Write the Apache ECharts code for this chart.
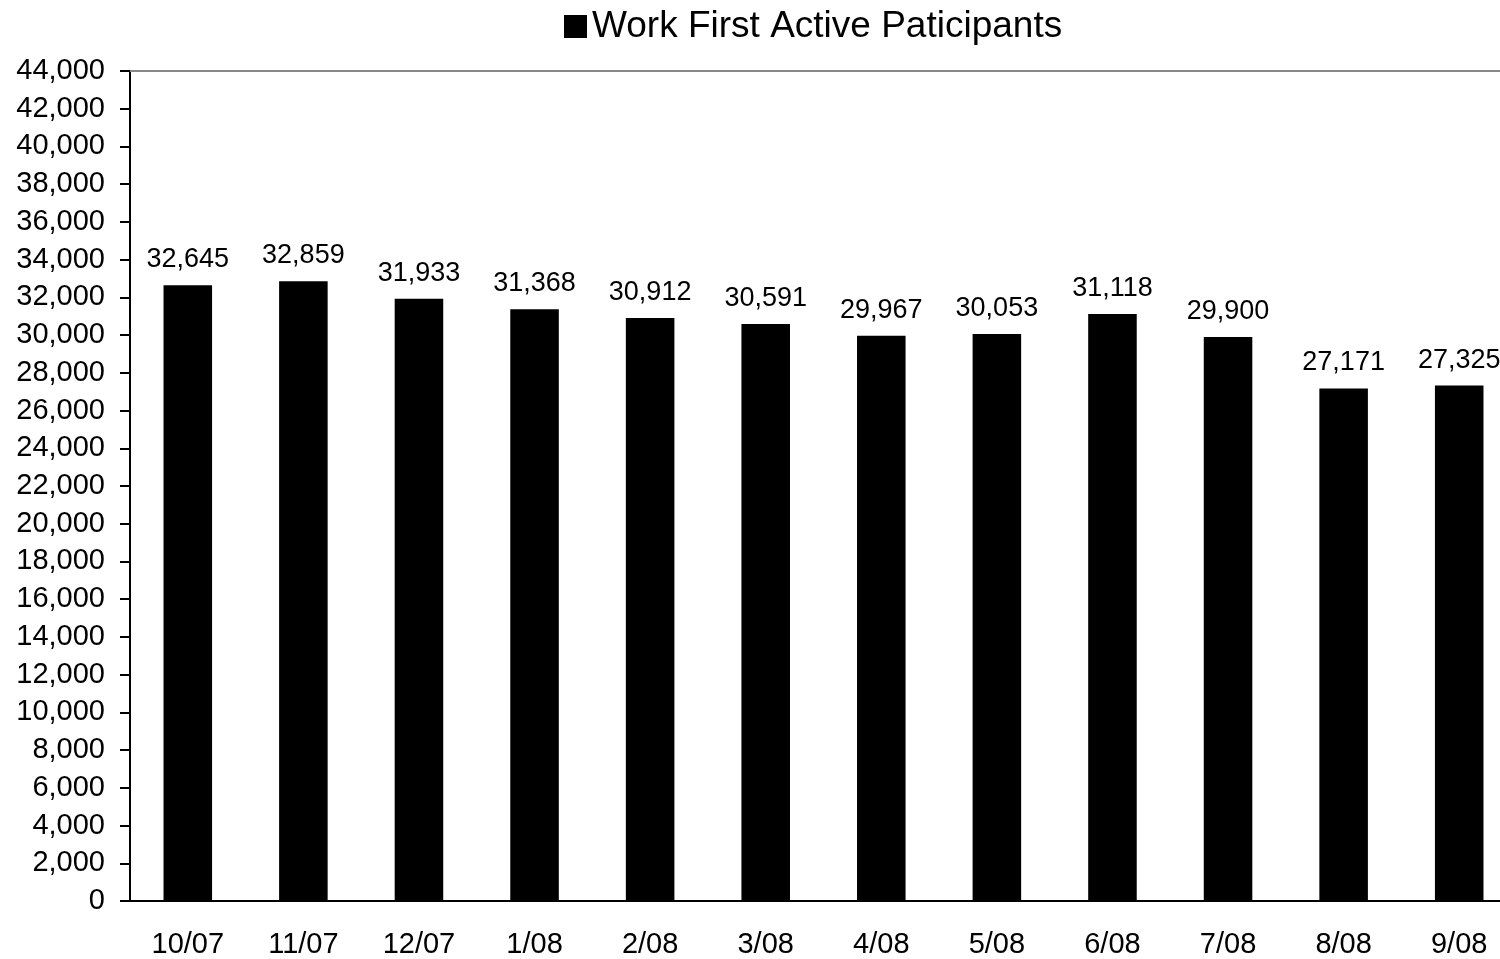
<!DOCTYPE html>
<html><head><meta charset="utf-8">
<script src="https://cdn.jsdelivr.net/npm/echarts@6/dist/echarts.min.js"></script>
<style>html,body{margin:0;padding:0;background:#fff;overflow:hidden}#c{width:1517px;height:959px}</style>
</head><body><div id="c"></div>
<script>
const categories = ['10/07','11/07','12/07','1/08','2/08','3/08','4/08','5/08','6/08','7/08','8/08','9/08'];
const participants = [32645, 32859, 31933, 31368, 30912, 30591, 29967, 30053, 31118, 29900, 27171, 27325];
const seriesName = 'Work First Active Paticipants';
const yMin = 0, yMax = 44000, yStep = 2000;

const FONT = '"Liberation Sans", Arial, sans-serif';
const chart = echarts.init(document.getElementById('c'));
chart.setOption({
  animation: false,
  textStyle: { fontFamily: FONT },
  legend: {
    data: [seriesName], top: 3, left: 559, itemWidth: 23, itemHeight: 23, itemGap: 6,
    icon: 'rect',
    textStyle: { fontSize: 37, color: '#000', fontFamily: FONT }
  },
  grid: { left: 130, top: 71, bottom: 58, width: 1387, containLabel: false },
  xAxis: [{
    type: 'category', data: categories, position: 'bottom',
    axisLine: { lineStyle: { color: '#000', width: 2 } },
    axisTick: { show: false },
    axisLabel: { fontSize: 29, color: '#000', margin: 29, fontFamily: FONT }
  }, {
    type: 'category', data: categories, position: 'top',
    axisLine: { show: true, lineStyle: { color: '#888', width: 2 } },
    axisTick: { show: false }, axisLabel: { show: false }
  }],
  yAxis: {
    type: 'value', min: yMin, max: yMax, interval: yStep,
    axisLine: { show: true, lineStyle: { color: '#000', width: 2 } },
    axisTick: { show: true, length: 10, lineStyle: { color: '#000', width: 2 } },
    splitLine: { show: false },
    axisLabel: { fontSize: 29, color: '#000', margin: 25, fontFamily: FONT,
      formatter: v => v.toLocaleString('en-US') }
  },
  series: [{
    name: seriesName, type: 'bar', data: participants, barWidth: '42%',
    itemStyle: { color: '#000' },
    label: { show: true, position: 'top', distance: 12, fontSize: 27, color: '#000', fontFamily: FONT,
      formatter: p => p.value.toLocaleString('en-US') }
  }]
});
</script></body></html>
